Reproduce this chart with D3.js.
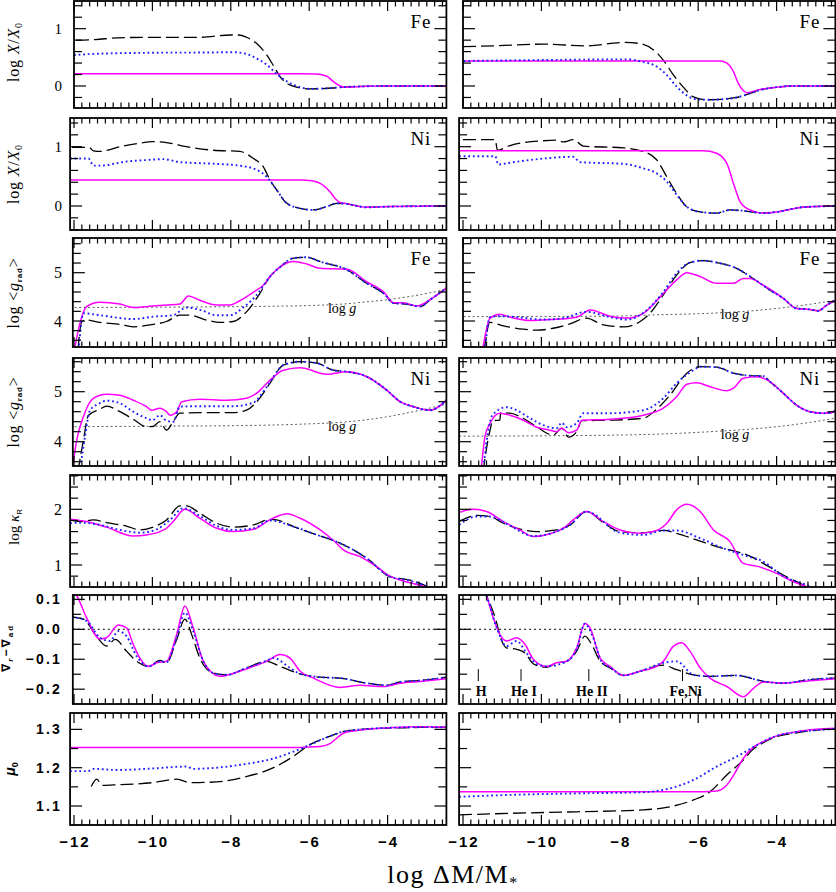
<!DOCTYPE html>
<html><head><meta charset="utf-8">
<script src="https://cdn.jsdelivr.net/npm/d3@7"></script>
<style>body{margin:0;background:#fff}svg{display:block}</style>
</head><body>
<script>
// ================= DATA =================
const xMajorTicks = [-12, -10, -8, -6, -4];
const xTickLabels = ["−12", "−10", "−8", "−6", "−4"];

// Row 1: log X/X0, Fe
const feX_L_dash = [[-11.95,0.8],[-11.46,0.81],[-10.9,0.84],[-10,0.85],[-8.8,0.85],[-8,0.89],[-7.8,0.89],[-7.6,0.85],[-7.34,0.74],[-7.08,0.54],[-6.9,0.34],[-6.74,0.16],[-6.5,0.02],[-6,-0.05],[-5.4,-0.035],[-5.15,-0.02],[-4.53,-0.005],[-4,0],[-2.5,0]];
const feX_L_dot = [[-12,0.54],[-11.5,0.56],[-10,0.58],[-8.5,0.585],[-7.94,0.59],[-7.6,0.56],[-7.34,0.48],[-7.08,0.37],[-6.83,0.21],[-6.57,0.08],[-6.23,-0.02],[-6,-0.05],[-5.4,-0.035],[-5.15,-0.02],[-4.53,-0.005],[-4,0],[-2.5,0]];
const feX_L_solid = [[-12.1,0.215],[-6.2,0.215],[-5.81,0.21],[-5.55,0.17],[-5.38,0.075],[-5.21,0.0],[-5.1,-0.02],[-4.53,-0.005],[-4,0],[-2.5,0]];
const feX_R_dash = [[-12,0.686],[-11.23,0.70],[-9.95,0.73],[-8.85,0.70],[-7.9,0.76],[-7.48,0.74],[-7.14,0.63],[-6.89,0.45],[-6.63,0.19],[-6.38,-0.02],[-6.12,-0.19],[-5.78,-0.24],[-5.36,-0.23],[-5.02,-0.2],[-4.68,-0.13],[-4.42,-0.07],[-4,-0.02],[-3.57,0],[-2.5,0]];
const feX_R_dot = [[-12.1,0.436],[-9.95,0.453],[-7.82,0.465],[-7.4,0.42],[-7.06,0.34],[-6.8,0.19],[-6.55,-0.01],[-6.3,-0.16],[-6.05,-0.23],[-5.78,-0.24],[-5.36,-0.23],[-5.02,-0.2],[-4.68,-0.13],[-4.42,-0.07],[-4,-0.02],[-3.57,0],[-2.5,0]];
const feX_R_solid = [[-12.1,0.436],[-5.44,0.436],[-5.27,0.4],[-5.1,0.25],[-4.98,0.05],[-4.85,-0.08],[-4.76,-0.116],[-4.42,-0.06],[-4,-0.02],[-3.57,0],[-2.5,0]];

// Row 2: log X/X0, Ni
const niX_L_dash = [[-12.05,0.99],[-11.62,0.99],[-11.5,0.93],[-11.34,0.92],[-10.83,1.0],[-10.32,1.06],[-10,1.085],[-9.64,1.07],[-9.13,1.0],[-8.44,0.94],[-7.77,0.92],[-7.42,0.80],[-7.17,0.66],[-7,0.44],[-6.83,0.27],[-6.57,0.045],[-6.23,-0.04],[-5.89,-0.067],[-5.55,-0.01],[-5.3,0.045],[-5.04,0.034],[-4.53,-0.022],[-4,-0.01],[-2.5,0]];
const niX_L_dot = [[-12.1,0.80],[-11.63,0.80],[-11.5,0.68],[-11.34,0.68],[-10.66,0.75],[-10.15,0.775],[-9.72,0.79],[-9.3,0.74],[-8.36,0.71],[-7.77,0.68],[-7.34,0.61],[-7.08,0.49],[-6.83,0.27],[-6.57,0.045],[-6.23,-0.04],[-5.89,-0.067],[-5.55,-0.01],[-5.3,0.045],[-5.04,0.034],[-4.53,-0.022],[-4,-0.01],[-2.5,0]];
const niX_L_solid = [[-12.1,0.44],[-6.2,0.44],[-6,0.43],[-5.72,0.38],[-5.47,0.24],[-5.3,0.10],[-5.21,0.06],[-5.04,0.04],[-4.53,-0.022],[-4,-0.01],[-2.5,0]];
const niX_R_dash = [[-12,1.12],[-11.18,1.12],[-11.12,0.94],[-10.8,1.02],[-9.95,1.1],[-9.6,1.11],[-9.44,1.08],[-9.19,1.12],[-8.93,1.01],[-7.9,0.98],[-7.4,0.92],[-7.06,0.78],[-6.8,0.49],[-6.55,0.21],[-6.3,-0.01],[-5.95,-0.1],[-5.53,-0.12],[-5.19,-0.067],[-4.85,-0.08],[-4.34,-0.12],[-4,-0.1],[-3.32,-0.02],[-2.5,0]];
const niX_R_dot = [[-12.1,0.84],[-11.18,0.84],[-11.1,0.70],[-10.8,0.73],[-9.95,0.80],[-9.19,0.83],[-9.02,0.74],[-7.9,0.71],[-7.4,0.635],[-7.06,0.55],[-6.8,0.41],[-6.55,0.19],[-6.3,-0.01],[-5.95,-0.1],[-5.53,-0.12],[-5.19,-0.067],[-4.85,-0.08],[-4.34,-0.12],[-4,-0.1],[-3.32,-0.02],[-2.5,0]];
const niX_R_solid = [[-12.1,0.93],[-5.87,0.93],[-5.53,0.89],[-5.27,0.72],[-5.1,0.38],[-4.93,0.07],[-4.68,-0.067],[-4.34,-0.12],[-4,-0.1],[-3.32,-0.02],[-2.5,0]];

// Row 3: log <g_rad>, Fe
const grFe_L_dash = [[-11.9,3.4],[-11.8,3.99],[-11.68,4.02],[-11.34,3.97],[-10.83,3.93],[-10.49,3.88],[-10.06,3.92],[-9.64,3.99],[-9.3,4.12],[-9.04,4.12],[-8.62,4.02],[-8.28,3.97],[-7.94,3.99],[-7.6,4.19],[-7.26,4.57],[-7,4.92],[-6.74,5.12],[-6.4,5.3],[-6.06,5.32],[-5.72,5.23],[-5.04,5.06],[-4.53,4.78],[-4.1,4.57],[-3.85,4.37],[-3.51,4.35],[-3.17,4.3],[-2.9,4.45],[-2.5,4.68]];
const grFe_L_dot = [[-11.88,3.4],[-11.76,4.16],[-11.34,4.12],[-10.49,4.04],[-9.98,4.09],[-9.47,4.12],[-9.13,4.28],[-8.79,4.23],[-8.36,4.12],[-8.02,4.12],[-7.68,4.28],[-7.34,4.54],[-7,4.92],[-6.74,5.12],[-6.4,5.3],[-6.06,5.32],[-5.72,5.23],[-5.04,5.06],[-4.53,4.78],[-4.1,4.57],[-3.85,4.37],[-3.51,4.35],[-3.17,4.3],[-2.9,4.45],[-2.5,4.68]];
const grFe_L_solid = [[-11.99,3.4],[-11.85,3.95],[-11.68,4.3],[-11.34,4.39],[-10.83,4.35],[-10.49,4.28],[-10,4.31],[-9.64,4.33],[-9.3,4.35],[-9.08,4.52],[-8.79,4.43],[-8.36,4.33],[-8.02,4.33],[-7.77,4.42],[-7.42,4.6],[-7.17,4.74],[-7,4.92],[-6.74,5.12],[-6.4,5.23],[-6.06,5.18],[-5.72,5.09],[-5.04,5.07],[-4.53,4.81],[-4.1,4.6],[-3.85,4.38],[-3.6,4.38],[-3.25,4.31],[-2.9,4.45],[-2.5,4.68]];
const grFe_R_dash = [[-11.46,3.4],[-11.31,3.97],[-10.97,3.9],[-10.46,3.83],[-10.12,3.81],[-9.7,3.85],[-9.27,3.94],[-8.85,4.06],[-8.42,3.92],[-7.91,3.88],[-7.48,3.99],[-7.23,4.16],[-6.89,4.54],[-6.55,4.95],[-6.21,5.21],[-5.87,5.25],[-5.53,5.21],[-5.02,5.09],[-4.6,4.88],[-4.17,4.64],[-3.83,4.47],[-3.49,4.26],[-3.15,4.24],[-2.94,4.21],[-2.72,4.33],[-2.5,4.43]];
const grFe_R_dot = [[-11.44,3.4],[-11.31,4.08],[-11.06,4.10],[-10.63,4.08],[-9.95,4.03],[-9.44,4.06],[-8.85,4.19],[-8.25,4.08],[-7.82,4.03],[-7.4,4.17],[-6.89,4.6],[-6.55,4.99],[-6.21,5.21],[-5.87,5.25],[-5.53,5.21],[-5.02,5.09],[-4.6,4.88],[-4.17,4.64],[-3.83,4.47],[-3.49,4.26],[-3.15,4.24],[-2.94,4.21],[-2.72,4.33],[-2.5,4.43]];
const grFe_R_solid = [[-11.5,3.4],[-11.31,4.06],[-11.06,4.14],[-10.8,4.08],[-10.29,4.01],[-9.78,4.03],[-9.1,4.08],[-8.76,4.23],[-8.25,4.10],[-7.82,4.06],[-7.4,4.16],[-6.97,4.5],[-6.55,4.85],[-6.29,5.0],[-5.95,4.92],[-5.53,4.78],[-5.1,4.78],[-4.85,4.88],[-4.68,4.88],[-4.34,4.74],[-3.83,4.47],[-3.49,4.26],[-3.15,4.24],[-2.94,4.21],[-2.72,4.33],[-2.5,4.43]];
const logg_L_fe = [[-12.1,4.28],[-9,4.29],[-7,4.305],[-6,4.32],[-5,4.36],[-4.5,4.4],[-4,4.44],[-3.5,4.5],[-3,4.57],[-2.5,4.66]];
const logg_R_fe = [[-12.1,4.09],[-10,4.095],[-8.25,4.10],[-7,4.13],[-5.7,4.16],[-4.5,4.22],[-4,4.26],[-3.2,4.34],[-2.5,4.43]];

// Row 4: log <g_rad>, Ni
const grNi_L_dash = [[-11.9,3.4],[-11.76,4.03],[-11.63,4.53],[-11.34,4.65],[-11.17,4.71],[-10.83,4.6],[-10.49,4.45],[-10.15,4.3],[-10,4.3],[-9.81,4.4],[-9.64,4.23],[-9.47,4.4],[-9.3,4.57],[-8.79,4.58],[-7.94,4.58],[-7.6,4.63],[-7.26,4.87],[-7,5.17],[-6.66,5.53],[-6.23,5.6],[-5.8,5.57],[-5.38,5.43],[-5.04,5.4],[-4.53,5.3],[-4.02,5.03],[-3.68,4.8],[-3.34,4.7],[-2.92,4.63],[-2.5,4.83]];
const grNi_L_dot = [[-11.85,3.4],[-11.72,4.1],[-11.59,4.63],[-11.34,4.77],[-11.17,4.82],[-10.83,4.77],[-10.49,4.6],[-10.15,4.47],[-10,4.43],[-9.81,4.53],[-9.64,4.42],[-9.47,4.4],[-9.3,4.7],[-8.79,4.71],[-7.94,4.71],[-7.43,4.78],[-7.08,5.1],[-6.66,5.53],[-6.23,5.6],[-5.8,5.57],[-5.38,5.43],[-5.04,5.4],[-4.53,5.3],[-4.02,5.03],[-3.68,4.8],[-3.34,4.7],[-2.92,4.63],[-2.5,4.83]];
const grNi_L_solid = [[-12.05,3.4],[-11.93,4.03],[-11.76,4.5],[-11.5,4.87],[-11.17,4.95],[-10.83,4.93],[-10.49,4.83],[-10.15,4.7],[-10.02,4.63],[-9.81,4.67],[-9.64,4.6],[-9.55,4.53],[-9.38,4.6],[-9.25,4.8],[-8.79,4.85],[-8.1,4.83],[-7.6,4.87],[-7.34,4.97],[-7.08,5.17],[-6.66,5.43],[-6.23,5.48],[-5.55,5.35],[-5.04,5.4],[-4.53,5.3],[-4.02,5.03],[-3.68,4.8],[-3.34,4.7],[-2.92,4.63],[-2.5,4.83]];
const grNi_R_dash = [[-11.49,3.4],[-11.31,4.23],[-11.24,4.42],[-11.06,4.43],[-11.04,4.58],[-10.8,4.57],[-10.38,4.43],[-10.12,4.3],[-9.7,4.13],[-9.48,4.27],[-9.31,4.09],[-9.1,4.2],[-8.97,4.42],[-8.25,4.43],[-7.4,4.47],[-7.06,4.65],[-6.72,4.93],[-6.29,5.37],[-5.95,5.5],[-5.53,5.49],[-5.1,5.37],[-4.68,5.32],[-4.34,5.31],[-4.17,5.2],[-3.83,4.97],[-3.49,4.73],[-3.15,4.6],[-2.81,4.57],[-2.6,4.58],[-2.5,4.63]];
const grNi_R_dot = [[-11.49,3.4],[-11.38,4.1],[-11.25,4.53],[-10.89,4.69],[-10.63,4.63],[-10.29,4.47],[-9.95,4.33],[-9.61,4.27],[-9.48,4.38],[-9.36,4.29],[-9.1,4.37],[-8.93,4.57],[-8.25,4.57],[-7.4,4.63],[-6.89,4.87],[-6.55,5.17],[-6.12,5.43],[-5.95,5.5],[-5.53,5.49],[-5.1,5.37],[-4.68,5.32],[-4.34,5.31],[-4.17,5.2],[-3.83,4.97],[-3.49,4.73],[-3.15,4.6],[-2.81,4.57],[-2.6,4.58],[-2.5,4.63]];
const grNi_R_solid = [[-11.54,3.4],[-11.44,4.1],[-11.31,4.37],[-11.06,4.57],[-10.8,4.53],[-10.46,4.43],[-10.12,4.29],[-9.78,4.23],[-9.61,4.2],[-9.48,4.27],[-9.31,4.18],[-9.1,4.23],[-8.97,4.43],[-8.25,4.45],[-7.4,4.53],[-6.89,4.67],[-6.55,4.9],[-6.29,5.15],[-6.04,5.18],[-5.7,5.1],[-5.27,5.02],[-5.1,5.07],[-4.85,5.27],[-4.51,5.3],[-4.17,5.2],[-3.83,4.97],[-3.49,4.73],[-3.15,4.6],[-2.81,4.57],[-2.6,4.58],[-2.5,4.63]];
const logg_L_ni = [[-12.1,4.3],[-10,4.31],[-8,4.32],[-6.23,4.35],[-5,4.4],[-4,4.5],[-3.17,4.63],[-2.5,4.75]];
const logg_R_ni = [[-12.1,4.11],[-8.25,4.13],[-5.7,4.2],[-4,4.3],[-3.2,4.38],[-2.5,4.47]];

// Row 5: log kappa_R
const kap_L_dash = [[-12.1,1.81],[-11.85,1.78],[-11.5,1.81],[-11.17,1.76],[-10.66,1.7],[-10.32,1.63],[-9.98,1.68],[-9.64,1.81],[-9.3,2.06],[-9.13,2.06],[-8.79,1.93],[-8.36,1.75],[-7.94,1.68],[-7.42,1.72],[-7.0,1.82],[-6.83,1.81],[-6.4,1.69],[-5.8,1.54],[-5.38,1.44],[-4.87,1.27],[-4.53,1.12],[-3.94,0.79],[-3.43,0.73],[-3.17,0.67],[-2.9,0.58]];
const kap_L_dot = [[-12.1,1.75],[-11.85,1.76],[-11.34,1.72],[-10.83,1.63],[-10.32,1.58],[-9.89,1.64],[-9.55,1.81],[-9.21,2.02],[-8.79,1.88],[-8.36,1.7],[-7.94,1.63],[-7.42,1.66],[-7,1.8],[-6.4,1.69],[-5.8,1.54],[-5.38,1.44],[-4.87,1.27],[-4.53,1.12],[-3.94,0.79],[-3.43,0.72],[-3.17,0.66],[-2.9,0.58]];
const kap_L_solid = [[-12.1,1.82],[-11.68,1.78],[-11.17,1.68],[-10.49,1.52],[-10.15,1.54],[-9.81,1.6],[-9.64,1.66],[-9.47,1.78],[-9.17,2.0],[-8.79,1.84],[-8.36,1.66],[-7.94,1.6],[-7.42,1.64],[-7.08,1.78],[-6.83,1.87],[-6.57,1.92],[-6.23,1.84],[-5.72,1.63],[-5.38,1.44],[-5.13,1.27],[-4.7,1.15],[-4.28,0.97],[-3.94,0.8],[-3.68,0.73],[-3.2,0.64],[-2.9,0.58]];
const kap_R_dash = [[-12.1,1.78],[-11.65,1.89],[-11.31,1.87],[-10.97,1.75],[-10.46,1.63],[-10.12,1.6],[-9.61,1.63],[-9.27,1.72],[-8.85,1.96],[-8.42,1.76],[-8,1.6],[-7.4,1.58],[-6.89,1.62],[-6.55,1.57],[-6.04,1.45],[-5.53,1.33],[-5.02,1.24],[-4.68,1.16],[-4.34,1.03],[-3.83,0.82],[-3.4,0.67],[-3.1,0.57]];
const kap_R_dot = [[-12.1,1.72],[-11.65,1.87],[-11.31,1.87],[-10.89,1.74],[-10.2,1.52],[-9.7,1.58],[-9.27,1.72],[-8.85,1.96],[-8,1.58],[-7.4,1.54],[-6.89,1.62],[-6.55,1.62],[-5.95,1.48],[-5.36,1.3],[-4.85,1.18],[-4.34,1.06],[-3.83,0.8],[-3.23,0.64],[-3.0,0.57]];
const kap_R_solid = [[-12.1,1.94],[-11.74,2.0],[-11.4,1.96],[-10.97,1.78],[-10.55,1.63],[-10.2,1.51],[-9.78,1.56],[-9.44,1.66],[-9.19,1.81],[-8.85,1.96],[-8.42,1.78],[-8,1.63],[-7.48,1.57],[-7.06,1.62],[-6.8,1.75],[-6.55,1.99],[-6.29,2.09],[-5.95,1.96],[-5.61,1.63],[-5.19,1.42],[-4.85,1.03],[-4.51,0.98],[-4,0.85],[-3.57,0.70],[-3.23,0.61],[-3.0,0.55]];

// Row 6: nabla_r - nabla_ad
const nab_L_dash = [[-12.05,0.041],[-11.76,0.034],[-11.43,-0.023],[-11.17,-0.056],[-10.95,-0.034],[-10.66,-0.073],[-10.4,-0.107],[-10.1,-0.124],[-9.81,-0.104],[-9.64,-0.112],[-9.38,-0.034],[-9.17,0.034],[-9.0,-0.017],[-8.79,-0.096],[-8.45,-0.146],[-8.1,-0.152],[-7.6,-0.129],[-7.09,-0.107],[-6.74,-0.124],[-6.23,-0.149],[-5.72,-0.16],[-5.21,-0.163],[-4.53,-0.18],[-4.02,-0.187],[-3.68,-0.176],[-3.17,-0.171],[-2.5,-0.16]];
const nab_L_dot = [[-12.05,0.041],[-11.68,0.028],[-11.34,-0.028],[-11.08,-0.039],[-10.87,-0.006],[-10.66,-0.023],[-10.4,-0.09],[-10.1,-0.124],[-9.81,-0.107],[-9.64,-0.11],[-9.38,-0.028],[-9.17,0.056],[-8.96,-0.006],[-8.7,-0.107],[-8.45,-0.146],[-8.1,-0.152],[-7.6,-0.129],[-7.09,-0.105],[-6.91,-0.096],[-6.49,-0.129],[-6.23,-0.149],[-5.72,-0.16],[-5.21,-0.163],[-4.53,-0.18],[-4.02,-0.187],[-3.68,-0.176],[-3.17,-0.171],[-2.5,-0.16]];
const nab_L_solid = [[-12.05,0.13],[-11.93,0.112],[-11.68,0.039],[-11.34,-0.032],[-11.17,-0.028],[-10.87,0.014],[-10.66,0.005],[-10.49,-0.05],[-10.32,-0.096],[-10.1,-0.124],[-9.89,-0.112],[-9.64,-0.107],[-9.38,-0.017],[-9.17,0.078],[-8.96,0.005],[-8.7,-0.107],[-8.28,-0.157],[-7.77,-0.14],[-7.43,-0.124],[-7.09,-0.107],[-6.74,-0.084],[-6.49,-0.096],[-6.23,-0.14],[-5.89,-0.163],[-5.21,-0.194],[-4.7,-0.187],[-4.1,-0.191],[-3.68,-0.18],[-3.17,-0.174],[-2.5,-0.165]];
const nab_R_dash = [[-11.5,0.14],[-11.4,0.112],[-11.18,0.039],[-11.01,-0.039],[-10.89,-0.062],[-10.63,-0.067],[-10.42,-0.079],[-10.2,-0.116],[-9.87,-0.127],[-9.61,-0.112],[-9.36,-0.107],[-9.1,-0.073],[-8.89,-0.023],[-8.72,-0.05],[-8.5,-0.107],[-8.25,-0.129],[-7.91,-0.154],[-7.48,-0.14],[-6.89,-0.12],[-6.55,-0.135],[-6.12,-0.152],[-5.7,-0.157],[-5.02,-0.154],[-4.34,-0.174],[-3.83,-0.18],[-3.15,-0.168],[-2.5,-0.163]];
const nab_R_dot = [[-11.5,0.14],[-11.4,0.112],[-11.14,0.005],[-10.89,-0.056],[-10.63,-0.039],[-10.38,-0.079],[-10.12,-0.116],[-9.87,-0.124],[-9.36,-0.107],[-9.1,-0.067],[-8.89,0.019],[-8.68,-0.028],[-8.47,-0.107],[-8.25,-0.127],[-7.91,-0.154],[-7.48,-0.14],[-6.89,-0.112],[-6.55,-0.107],[-6.12,-0.152],[-5.7,-0.157],[-5.02,-0.154],[-4.34,-0.174],[-3.83,-0.18],[-3.15,-0.168],[-2.5,-0.163]];
const nab_R_solid = [[-11.5,0.14],[-11.4,0.112],[-11.23,0.039],[-11.06,-0.017],[-10.89,-0.039],[-10.63,-0.028],[-10.42,-0.05],[-10.2,-0.101],[-9.87,-0.124],[-9.61,-0.112],[-9.36,-0.107],[-9.1,-0.062],[-8.89,0.019],[-8.76,0.005],[-8.5,-0.096],[-8.25,-0.124],[-7.91,-0.154],[-7.48,-0.14],[-7.06,-0.124],[-6.89,-0.107],[-6.63,-0.056],[-6.42,-0.045],[-6.21,-0.073],[-5.95,-0.129],[-5.7,-0.163],[-5.27,-0.191],[-4.85,-0.225],[-4.59,-0.197],[-4.34,-0.176],[-3.83,-0.18],[-3.15,-0.172],[-2.5,-0.165]];
const ionZoneX = [-11.61, -10.52, -8.79, -6.4];
const ionZoneNames = ["H", "He I", "He II", "Fe,Ni"];

// Row 7: mu_0
const mu_L_dash = [[-11.56,1.151],[-11.42,1.17],[-11.28,1.154],[-11,1.155],[-10,1.161],[-9.38,1.17],[-9.04,1.161],[-8.36,1.163],[-7.6,1.177],[-6.91,1.2],[-6.4,1.23],[-6,1.259],[-5.55,1.279],[-5.13,1.294],[-4.53,1.301],[-3.68,1.304],[-3.17,1.305],[-2.5,1.305]];
const mu_L_dot = [[-12.1,1.191],[-11.65,1.191],[-11.5,1.197],[-10.92,1.194],[-10,1.198],[-9.13,1.203],[-8.96,1.197],[-8.36,1.2],[-7.6,1.21],[-6.91,1.224],[-6.4,1.242],[-6,1.259],[-5.55,1.279],[-5.13,1.294],[-4.53,1.301],[-3.68,1.305],[-3.17,1.306],[-2.5,1.305]];
const mu_L_solid = [[-12.1,1.253],[-6.23,1.253],[-5.72,1.255],[-5.47,1.263],[-5.13,1.29],[-4.87,1.296],[-4,1.304],[-3.17,1.307],[-2.5,1.306]];
const mu_R_dash = [[-12.1,1.077],[-10.8,1.081],[-9.1,1.085],[-7.4,1.09],[-6.72,1.098],[-6.12,1.116],[-5.7,1.137],[-5.27,1.181],[-4.85,1.22],[-4.6,1.248],[-4.34,1.265],[-4,1.281],[-3.49,1.291],[-2.98,1.298],[-2.5,1.301]];
const mu_R_dot = [[-12.1,1.124],[-10.8,1.129],[-9.1,1.133],[-7.4,1.136],[-6.72,1.146],[-6.12,1.168],[-5.53,1.203],[-5.02,1.229],[-4.6,1.253],[-4.34,1.268],[-4,1.283],[-3.49,1.293],[-2.98,1.298],[-2.5,1.301]];
const mu_R_solid = [[-12.1,1.137],[-5.87,1.137],[-5.53,1.139],[-5.27,1.155],[-5.02,1.194],[-4.85,1.224],[-4.6,1.253],[-4.34,1.268],[-4,1.283],[-3.49,1.294],[-2.98,1.3],[-2.5,1.303]];

// ================= LAYOUT =================
const W = 836, H = 892;
const svg = d3.select("body").append("svg").attr("width", W).attr("height", H)
  .attr("font-family", "'Liberation Serif','DejaVu Serif',serif");

const rowsPx = [[1,108],[118,230],[238,347],[358,466],[475,587],[595,704],[713,825]];
const colRange = [[74,446.4],[463,835.4]];         // pixel positions of x=-12 and x=-2.5
const panelXmin = [[-12,-12.1,-12.03,-12.03,-12.1,-12.03,-12.1],
                   [-12,-12.1,-12,-12.1,-12.1,-12.1,-12.1]];
const xMax = -2.5;

const serifF = "'Liberation Serif','DejaVu Serif',serif";
const sansF = "'Liberation Sans','DejaVu Sans',sans-serif";

const rowDefs = [
  {dom:[-0.384,1.483], major:[0,1], step:0.2, labels:["0","1"], sans:false, fs:15, elem:"Fe", ylab:"X"},
  {dom:[-0.405,1.484], major:[0,1], step:0.2, labels:["0","1"], sans:false, fs:15, elem:"Ni", ylab:"X"},
  {dom:[3.462,5.718], major:[4,5], step:0.2, labels:["4","5"], sans:false, fs:16, elem:"Fe", ylab:"g"},
  {dom:[3.514,5.674], major:[4,5], step:0.2, labels:["4","5"], sans:false, fs:16, elem:"Ni", ylab:"g"},
  {dom:[0.605,2.616], major:[1,2], step:0.2, labels:["1","2"], sans:false, fs:16, elem:null, ylab:"k"},
  {dom:[-0.2495,0.1145], major:[-0.2,-0.1,0,0.1], step:0.05, labels:["−0.2","−0.1","0.0","0.1"], sans:true, fs:14, elem:null, ylab:"n"},
  {dom:[1.0505,1.3427], major:[1.1,1.2,1.3], step:0.05, labels:["1.1","1.2","1.3"], sans:true, fs:14, elem:null, ylab:"m"}
];
const ylabCenter = [52,174,293,412,527,648,769];

const series = [
  [[feX_L_dash,feX_L_dot,feX_L_solid],[feX_R_dash,feX_R_dot,feX_R_solid]],
  [[niX_L_dash,niX_L_dot,niX_L_solid],[niX_R_dash,niX_R_dot,niX_R_solid]],
  [[grFe_L_dash,grFe_L_dot,grFe_L_solid],[grFe_R_dash,grFe_R_dot,grFe_R_solid]],
  [[grNi_L_dash,grNi_L_dot,grNi_L_solid],[grNi_R_dash,grNi_R_dot,grNi_R_solid]],
  [[kap_L_dash,kap_L_dot,kap_L_solid],[kap_R_dash,kap_R_dot,kap_R_solid]],
  [[nab_L_dash,nab_L_dot,nab_L_solid],[nab_R_dash,nab_R_dot,nab_R_solid]],
  [[mu_L_dash,mu_L_dot,mu_L_solid],[mu_R_dash,mu_R_dot,mu_R_solid]]
];
const loggLines = {2:[logg_L_fe,logg_R_fe], 3:[logg_L_ni,logg_R_ni]};
const loggLabelPos = {2:[[-5.16,4.166],[-5.06,4.04]], 3:[[-5.16,4.21],[-5.06,4.05]]};

const styles = [
  {stroke:"#000", width:1.3, dash:"13,5", cap:"butt"},
  {stroke:"#1f1fff", width:1.9, dash:"1.8,2.8", cap:"butt"},
  {stroke:"#ff00ff", width:1.5, dash:null, cap:"round"}
];
const drawOrder = [0,2,1];

const rnd = v => Math.round(v*1e6)/1e6;

for (let r = 0; r < 7; r++) {
  const def = rowDefs[r];
  const [y0, y1] = rowsPx[r];
  for (let c = 0; c < 2; c++) {
    const x = d3.scaleLinear().domain([-12, xMax]).range(colRange[c]);
    const y = d3.scaleLinear().domain(def.dom).range([y1, y0]);
    const xmin = panelXmin[c][r];
    const px0 = x(xmin), px1 = x(xMax);
    const g = svg.append("g");
    const cid = `clip${r}_${c}`;
    svg.append("clipPath").attr("id", cid).append("rect")
      .attr("x", px0).attr("y", y0).attr("width", px1 - px0).attr("height", y1 - y0);
    const plot = g.append("g").attr("clip-path", `url(#${cid})`);

    if (r === 5) {
      plot.append("line").attr("x1", px0).attr("x2", px1).attr("y1", y(0)).attr("y2", y(0))
        .attr("stroke", "#000").attr("stroke-width", 1).attr("stroke-dasharray", "2,3");
    }
    if (loggLines[r]) {
      plot.append("path").datum(loggLines[r][c])
        .attr("d", d3.line().x(d => x(d[0])).y(d => y(d[1])).curve(d3.curveMonotoneX))
        .attr("fill", "none").attr("stroke", "#333").attr("stroke-width", 0.8).attr("stroke-dasharray", "2,2.5");
      const lp = loggLabelPos[r][c];
      const t = g.append("text").attr("x", x(lp[0])).attr("y", y(lp[1])).attr("text-anchor", "middle")
        .attr("font-size", 14).attr("font-family", serifF);
      t.append("tspan").text("log ");
      t.append("tspan").attr("font-style", "italic").text("g");
    }
    const line = d3.line().x(d => x(d[0])).y(d => y(d[1])).curve(d3.curveMonotoneX);
    drawOrder.forEach(k => {
      const st = styles[k];
      const p = plot.append("path").datum(series[r][c][k]).attr("d", line)
        .attr("fill", "none").attr("stroke", st.stroke).attr("stroke-width", st.width)
        .attr("stroke-linecap", st.cap).attr("stroke-linejoin", "round");
      if (st.dash) p.attr("stroke-dasharray", st.dash);
    });

    if (r === 5 && c === 1) {
      ionZoneX.forEach((v, i) => {
        g.append("line").attr("x1", x(v)).attr("x2", x(v)).attr("y1", y(-0.133)).attr("y2", y(-0.173))
          .attr("stroke", "#000").attr("stroke-width", 1);
        g.append("text").attr("x", x(v) + 3).attr("y", y(-0.222)).attr("text-anchor", "middle")
          .attr("font-size", 14).attr("font-weight", "bold").attr("font-family", serifF).text(ionZoneNames[i]);
      });
    }

    const tk = g.append("g").attr("stroke", "#000").attr("stroke-width", 1.2);
    const xMinor = d3.range(-12, xMax + 1e-9, 0.2).map(rnd).filter(v => v >= xmin - 1e-9);
    xMinor.forEach(v => {
      const isMaj = xMajorTicks.some(m => Math.abs(m - v) < 1e-6);
      const L = isMaj ? 10 : 5.5;
      const xx = x(v);
      tk.append("line").attr("x1", xx).attr("x2", xx).attr("y1", y1).attr("y2", y1 - L);
      tk.append("line").attr("x1", xx).attr("x2", xx).attr("y1", y0).attr("y2", y0 + L);
    });
    const yStart = Math.ceil(def.dom[0] / def.step - 1e-9) * def.step;
    const yMinor = d3.range(yStart, def.dom[1] + 1e-9, def.step).map(rnd);
    yMinor.forEach(v => {
      const isMaj = def.major.some(m => Math.abs(m - v) < 1e-6);
      const L = isMaj ? 12 : 8;
      const yy = y(v);
      tk.append("line").attr("x1", px0).attr("x2", px0 + L).attr("y1", yy).attr("y2", yy);
      tk.append("line").attr("x1", px1).attr("x2", px1 - L).attr("y1", yy).attr("y2", yy);
    });

    g.append("rect").attr("x", px0).attr("y", y0).attr("width", px1 - px0).attr("height", y1 - y0)
      .attr("fill", "none").attr("stroke", "#000").attr("stroke-width", 1.8);

    if (def.elem) {
      g.append("text").attr("x", px1 - 15).attr("y", y0 + 27).attr("text-anchor", "end")
        .attr("font-size", 19).attr("letter-spacing", 1).attr("font-family", serifF).text(def.elem);
    }

    if (c === 0) {
      def.major.forEach((v, i) => {
        g.append("text").attr("x", 62).attr("y", y(v)).attr("dy", "0.35em").attr("text-anchor", "end")
          .attr("font-size", def.fs)
          .attr("font-family", def.sans ? sansF : serifF)
          .attr("font-weight", def.sans ? "bold" : "normal")
          .attr("letter-spacing", def.sans ? 2.2 : 0)
          .text(def.labels[i]);
      });
    }
    if (r === 6) {
      xMajorTicks.forEach((v, i) => {
        g.append("text").attr("x", x(v) + 1).attr("y", 847).attr("text-anchor", "middle")
          .attr("font-size", 15).attr("font-weight", "bold").attr("font-family", sansF)
          .attr("letter-spacing", 2).text(xTickLabels[i]);
      });
    }
  }
}

function ylabel(r) {
  const kind = rowDefs[r].ylab;
  const bx = kind === "n" ? 10 : (kind === "m" ? 15 : 19);
  const t = svg.append("text").attr("transform", `translate(${bx},${ylabCenter[r]}) rotate(-90)`)
    .attr("text-anchor", "middle");
  if (kind === "X") {
    t.attr("font-family", serifF).attr("font-size", 16).attr("letter-spacing", 0.8);
    t.append("tspan").text("log ");
    t.append("tspan").attr("font-style", "italic").text("X");
    t.append("tspan").text("/");
    t.append("tspan").attr("font-style", "italic").text("X");
    t.append("tspan").attr("font-size", 10).attr("dy", 3).text("0");
  } else if (kind === "g") {
    t.attr("font-family", serifF).attr("font-size", 16).attr("letter-spacing", 0.8);
    t.append("tspan").text("log  <");
    t.append("tspan").attr("font-style", "italic").text("g");
    t.append("tspan").attr("font-size", 8).attr("font-weight", "bold").attr("font-family", sansF).attr("dy", 3).text("rad");
    t.append("tspan").attr("dy", -3).text(">");
  } else if (kind === "k") {
    t.attr("font-family", serifF).attr("font-size", 15);
    t.append("tspan").text("log ");
    t.append("tspan").attr("font-style", "italic").text("κ");
    t.append("tspan").attr("font-size", 8).attr("font-family", sansF).attr("dy", 3).text("R");
  } else if (kind === "n") {
    t.attr("font-family", sansF).attr("font-size", 12).attr("font-weight", "bold").attr("letter-spacing", 2);
    t.append("tspan").text("∇");
    t.append("tspan").attr("font-size", 8).attr("font-style", "italic").attr("dy", 3).text("r");
    t.append("tspan").attr("dy", -3).text("−∇");
    t.append("tspan").attr("font-size", 8).attr("dy", 3).text("ad");
  } else {
    t.attr("font-family", sansF).attr("font-size", 14).attr("font-weight", "bold");
    t.append("tspan").attr("font-style", "italic").text("μ");
    t.append("tspan").attr("font-size", 9).attr("dy", 3).text("0");
  }
}
for (let r = 0; r < 7; r++) ylabel(r);

const xt = svg.append("text").attr("x", 453).attr("y", 883).attr("text-anchor", "middle")
  .attr("font-family", serifF).attr("font-size", 26).attr("letter-spacing", 1.5);
xt.append("tspan").text("log  ΔM/M");
xt.append("tspan").attr("font-size", 16).attr("dy", 5).text("*");
</script>
</body></html>
